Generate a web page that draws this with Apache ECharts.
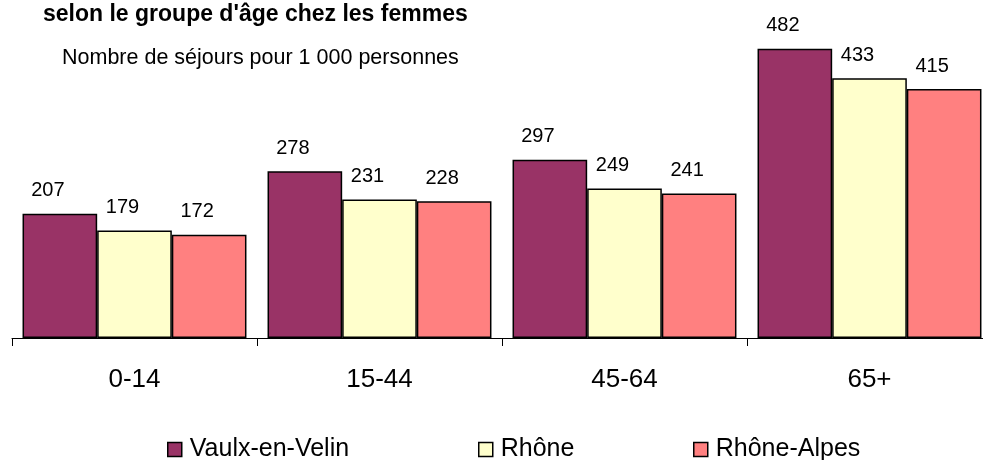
<!DOCTYPE html>
<html>
<head>
<meta charset="utf-8">
<script src="https://cdn.jsdelivr.net/npm/echarts@6/dist/echarts.min.js"></script>
<style>
html,body{margin:0;padding:0;background:#fff;overflow:hidden;width:983px;height:460px;}
#chart{width:1000px;height:460px;}
</style>
</head>
<body>
<div id="chart"></div>
<script>
const categories = ['0-14', '15-44', '45-64', '65+'];
const seriesNames = ['Vaulx-en-Velin', 'Rhône', 'Rhône-Alpes'];
const vaulx = [207, 278, 297, 482];
const rhone = [179, 231, 249, 433];
const rhoneAlpes = [172, 228, 241, 415];
const colors = ['#993366', '#FFFFCC', '#FF8080'];
const titleText = "selon le groupe d'âge chez les femmes";
const subtitleText = 'Nombre de séjours pour 1 000 personnes';

const font = 'Arial, "Liberation Sans", sans-serif';
const chart = echarts.init(document.getElementById('chart'));
const values = [vaulx, rhone, rhoneAlpes];
const legendLefts = [167, 478, 693];

chart.setOption({
  animation: false,
  backgroundColor: '#ffffff',
  title: [
    {text: titleText, left: 43, top: 3, padding: 0, textStyle: {fontFamily: font, fontSize: 23, fontWeight: 'bold', color: '#000'}},
    {text: subtitleText, left: 62, top: 47, padding: 0, textStyle: {fontFamily: font, fontSize: 21.5, fontWeight: 'normal', color: '#000'}}
  ],
  legend: seriesNames.map((n, i) => ({
    data: [n], left: legendLefts[i], top: 437, padding: 0, itemWidth: 14, itemHeight: 14, itemGap: 5,
    icon: 'rect', itemStyle: {borderColor: '#000', borderWidth: 1.5},
    textStyle: {fontFamily: font, fontSize: 25, color: '#000', padding: [0, 0, 0, 3]}
  })),
  grid: {left: 12, width: 980, top: 38, bottom: 122, containLabel: false},
  xAxis: {
    type: 'category', data: categories,
    axisLine: {lineStyle: {color: '#000', width: 1}},
    axisTick: {show: true, length: 8, lineStyle: {color: '#000'}},
    axisLabel: {fontFamily: font, fontSize: 26, color: '#000', margin: 29}
  },
  yAxis: {type: 'value', min: 0, max: 500, show: false, splitLine: {show: false}},
  series: seriesNames.map((n, i) => ({
    name: n, type: 'bar', data: values[i],
    barGap: '0%', barCategoryGap: '8.6%',
    itemStyle: {color: colors[i], borderColor: '#000', borderWidth: 1.5},
    label: {show: true, position: 'top', distance: 13, fontFamily: font, fontSize: 20, color: '#000', offset: [-12, 0]}
  }))
});
</script>
</body>
</html>
